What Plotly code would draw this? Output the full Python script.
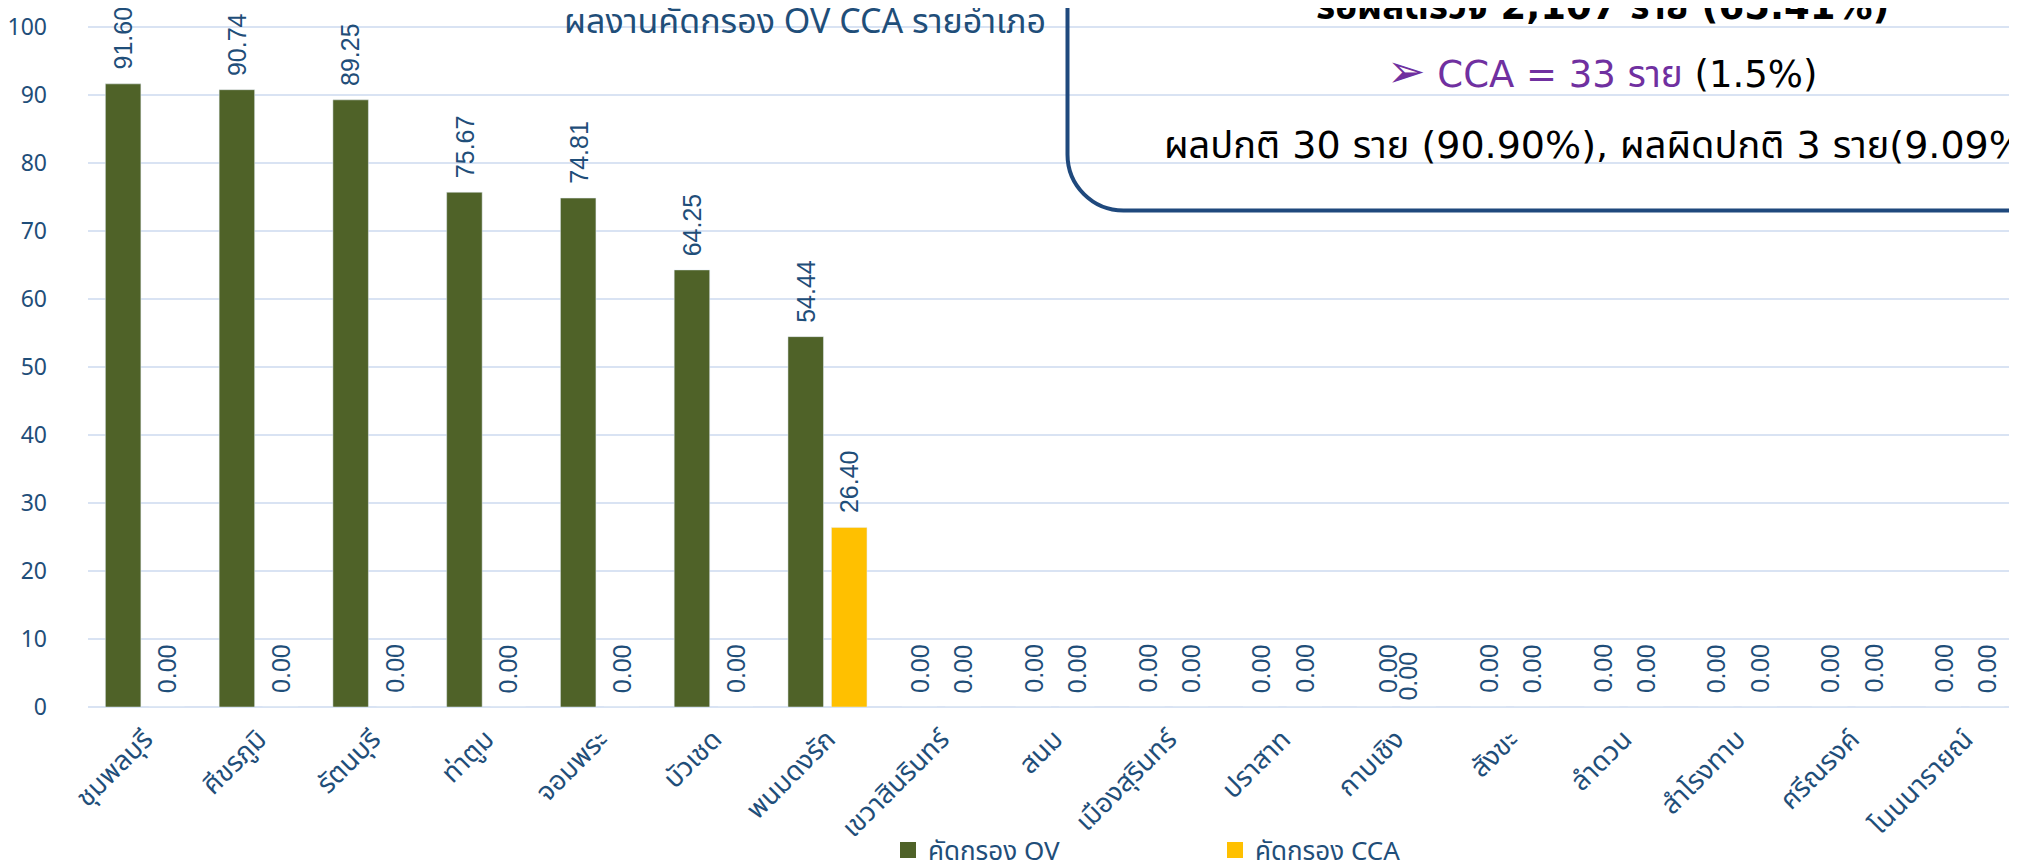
import plotly.graph_objects as go

# ---------------- data ----------------
districts = ["ชุมพลบุรี", "ศีขรภูมิ", "รัตนบุรี", "ท่าตูม", "จอมพระ", "บัวเชด", "พนมดงรัก",
             "เขวาสินรินทร์", "สนม", "เมืองสุรินทร์", "ปราสาท", "กาบเชิง", "สังขะ", "ลำดวน",
             "สำโรงทาบ", "ศรีณรงค์", "โนนนารายณ์"]
ov_values = [91.60, 90.74, 89.25, 75.67, 74.81, 64.25, 54.44, 0.00, 0.00, 0.00,
             0.00, 0.00, 0.00, 0.00, 0.00, 0.00, 0.00]
cca_values = [0.00, 0.00, 0.00, 0.00, 0.00, 0.00, 26.40, 0.00, 0.00, 0.00,
              0.00, 0.00, 0.00, 0.00, 0.00, 0.00, 0.00]
series_names = ["คัดกรอง OV", "คัดกรอง CCA"]
y_ticks = [0, 10, 20, 30, 40, 50, 60, 70, 80, 90, 100]
chart_title = "ผลงานคัดกรอง OV CCA รายอำเภอ"
box_line1 = "<b>รอผลตรวจ 2,107 ราย (65.41%)</b>"
box_arrow = "➢"
box_line2 = " CCA = 33 ราย"
box_line2_tail = " (1.5%)"
box_line3 = "ผลปกติ 30 ราย (90.90%), ผลผิดปกติ 3 ราย(9.09%)"

# ---------------- styling / geometry ----------------
OFF = 8                       # page body margin in the browser
W, H = 2017 - OFF, 868 - OFF
ML, MR, MT = 80, 0, 0
PX_PER_UNIT = 6.803
PH = 699
MB = H - MT - PH
PW = W - ML - MR
GREEN, YELLOW = "#4F6228", "#FFC000"
BLUE = "#1F4E79"
GRID = "#D9E3F3"
PURPLE = "#7030A0"
THAI = "Noto Sans Thai, Tahoma, Noto Sans, DejaVu Sans, sans-serif"
WIDE = "DejaVu Sans, Noto Sans Thai, sans-serif"
NARROW = "Liberation Sans Narrow, Noto Sans Thai, Tahoma, sans-serif"
LABEL_FONT = "Liberation Sans, Arial, sans-serif"


def px2x(p):
    """screen pixel x -> paper x"""
    return (p - OFF - ML) / PW


def py2y(p):
    """screen pixel y -> paper y"""
    return (MT + PH - (p - OFF)) / PH


fig = go.Figure()
fig.add_trace(go.Bar(x=districts, y=ov_values, name=series_names[0],
                     marker=dict(color=GREEN), showlegend=False))
fig.add_trace(go.Bar(x=districts, y=cca_values, name=series_names[1],
                     marker=dict(color=YELLOW), showlegend=False))
# legend proxies
fig.add_trace(go.Scatter(x=[None], y=[None], mode="markers", name=series_names[0],
                         marker=dict(symbol="square", size=16, color=GREEN)))
fig.add_trace(go.Scatter(x=[None], y=[None], mode="markers", name=series_names[1],
                         marker=dict(symbol="square", size=16, color=YELLOW)))

# data labels (rotated)
half = 21.75
nudges = {("cca", 11): (-11, -8), ("ov", 11): (13, 0)}
annotations = []
for key, vals, sx in (("ov", ov_values, -half), ("cca", cca_values, half)):
    for i, (d, v) in enumerate(zip(districts, vals)):
        dx, dy = nudges.get((key, i), (0, 0))
        annotations.append(dict(
            x=d, y=v, xref="x", yref="y", text=f"{v:.2f}", showarrow=False,
            textangle=-90, xanchor="center", yanchor="bottom",
            xshift=sx + dx, yshift=12 + dy,
            font=dict(family=LABEL_FONT, size=25, color=BLUE)))

# chart title
annotations.append(dict(x=px2x(805), y=py2y(23), xref="paper", yref="paper",
                        text=chart_title, showarrow=False, xanchor="center", yanchor="middle",
                        font=dict(family=NARROW, size=34, color=BLUE)))
# text box lines
annotations.append(dict(x=px2x(1602), y=py2y(6), xref="paper", yref="paper",
                        text=box_line1, showarrow=False, xanchor="center", yanchor="middle",
                        font=dict(family=WIDE, size=37, color="black")))
annotations.append(dict(x=px2x(1602), y=py2y(71), xref="paper", yref="paper",
                        text=(f"<span style='color:{PURPLE};font-size:46px'>{box_arrow}</span>"
                              f"<span style='color:{PURPLE}'>{box_line2}</span>{box_line2_tail}"),
                        showarrow=False, xanchor="center", yanchor="middle",
                        font=dict(family=WIDE, size=37, color="black")))
annotations.append(dict(x=px2x(1602), y=py2y(145), xref="paper", yref="paper",
                        text=box_line3, showarrow=False, xanchor="center", yanchor="middle",
                        font=dict(family=WIDE, size=38, color="black")))

# rounded box (bottom-left corner visible)
L, B, R, TOP, r = 1067.5, 210.5, 2060, -30, 56
k = 0.552 * r
path = (f"M {px2x(L)},{py2y(TOP)} L {px2x(L)},{py2y(B - r)} "
        f"C {px2x(L)},{py2y(B - r + k)} {px2x(L + r - k)},{py2y(B)} {px2x(L + r)},{py2y(B)} "
        f"L {px2x(R)},{py2y(B)}")
shapes = [dict(type="path", xref="paper", yref="paper", path=path,
               line=dict(color="#1F497D", width=4), fillcolor="rgba(0,0,0,0)")]

x_hi = 16.5 - (2022 - 2017) / 113.8
fig.update_layout(
    width=W, height=H,
    margin=dict(l=ML, r=MR, t=MT, b=MB, autoexpand=False),
    paper_bgcolor="white", plot_bgcolor="white",
    barmode="group", bargap=0.235, bargroupgap=0.184,
    xaxis=dict(type="category", range=[-0.5, x_hi],
               tickangle=-45, tickfont=dict(family=THAI, size=27, color=BLUE),
               showgrid=False, zeroline=False, showline=False, ticks="",
               ticklabelstandoff=10, fixedrange=True),
    yaxis=dict(range=[0, PH / PX_PER_UNIT], tickvals=y_ticks,
               tickfont=dict(family=NARROW, size=23, color=BLUE),
               showgrid=True, gridcolor=GRID, gridwidth=2,
               zeroline=True, zerolinecolor=GRID, zerolinewidth=2,
               showline=False, ticks="", ticklabelstandoff=40),
    legend=dict(orientation="h", x=px2x(888), y=py2y(850), xanchor="left", yanchor="middle",
                font=dict(family=NARROW, size=26, color=BLUE),
                entrywidth=282, entrywidthmode="pixels", bgcolor="rgba(0,0,0,0)"),
    annotations=annotations, shapes=shapes,
)

fig.write_html("out.html")
